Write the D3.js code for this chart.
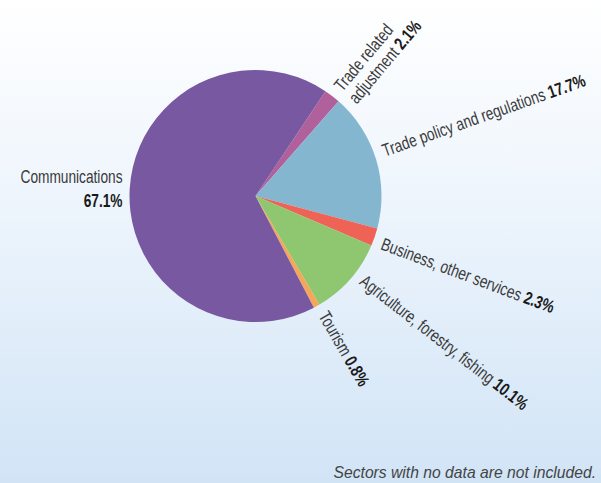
<!DOCTYPE html>
<html>
<head>
<meta charset="utf-8">
<script src="https://cdn.jsdelivr.net/npm/d3@7/dist/d3.min.js"></script>
<style>
html,body{margin:0;padding:0;}
svg{display:block;}
.lab{font-family:"Liberation Sans",Arial,sans-serif;font-size:17.8px;fill:#3a3a3a;}
.pct{font-weight:bold;fill:#1a1a1a;}
.note{font-family:"Liberation Sans","DejaVu Sans",sans-serif;font-style:italic;font-size:15.7px;fill:#444;}
</style>
</head>
<body>
<script>
// Data (clockwise order starting at the pink slice)
const sectors = ["Trade related adjustment", "Trade policy and regulations", "Business, other services", "Agriculture, forestry, fishing", "Tourism", "Communications"];
const labelLines = [["Trade related", "adjustment"], ["Trade policy and regulations"], ["Business, other services"], ["Agriculture, forestry, fishing"], ["Tourism"], ["Communications"]];
const shares = [2.1, 17.7, 2.3, 10.1, 0.8, 67.1];
const pctLabels = ["2.1%", "17.7%", "2.3%", "10.1%", "0.8%", "67.1%"];
const colors = ["#b0609a", "#84b6d0", "#ef6357", "#8ec770", "#f6a65a", "#7858a1"];
const note = "Sectors with no data are not included.";

// layout (not data)
const W = 601, H = 483;
const cx = 255.5, cy = 196, R = 126;
const start = 33.7 * Math.PI / 180;
const tilt = [2.5, -2.5, 1.5, -3.5, -1, 0]; // small label angle adjustments, degrees
const squeeze = 0.77;

const svg = d3.select("body").append("svg").attr("width", W).attr("height", H);
const defs = svg.append("defs");
const grad = defs.append("linearGradient").attr("id", "bg").attr("x1", 0).attr("y1", 0).attr("x2", 0).attr("y2", 1);
grad.append("stop").attr("offset", "0%").attr("stop-color", "#ffffff");
grad.append("stop").attr("offset", "45%").attr("stop-color", "#ecf4fc");
grad.append("stop").attr("offset", "100%").attr("stop-color", "#d1e4f6");
svg.append("rect").attr("width", W).attr("height", H).attr("fill", "url(#bg)");

const pie = d3.pie().sort(null).value(d => d).startAngle(start).endAngle(start + 2 * Math.PI);
const arcs = pie(shares);
const arc = d3.arc().innerRadius(0).outerRadius(R);

const g = svg.append("g").attr("transform", `translate(${cx},${cy})`);
g.selectAll("path").data(arcs).join("path")
  .attr("d", arc)
  .attr("fill", (d, i) => colors[i]);

// labels
arcs.forEach((d, i) => {
  const mid = (d.startAngle + d.endAngle) / 2;
  const lines = labelLines[i];
  if (sectors[i] === "Communications") {
    const lg = g.append("g").attr("transform", `translate(${-(R + 7)},0) scale(${squeeze},1)`);
    const t = lg.append("text").attr("class", "lab").attr("text-anchor", "end");
    t.append("tspan").attr("x", 0).attr("y", -13).text(lines[0]);
    t.append("tspan").attr("x", 0).attr("y", 11).attr("class", "pct").text(pctLabels[i]);
    return;
  }
  const deg = mid * 180 / Math.PI - 90 + tilt[i];
  const lg = g.append("g").attr("transform", `rotate(${deg}) translate(${R + 9},0) scale(${squeeze},1)`);
  const t = lg.append("text").attr("class", "lab");
  if (lines.length === 2) {
    t.append("tspan").attr("x", 0).attr("y", 0).text(lines[0]);
    t.append("tspan").attr("x", 0).attr("y", 19).text(lines[1] + " ");
    t.append("tspan").attr("class", "pct").text(pctLabels[i]);
  } else {
    t.append("tspan").attr("x", 0).attr("y", 6).text(lines[0] + " ");
    t.append("tspan").attr("class", "pct").text(pctLabels[i]);
  }
});

svg.append("text").attr("class", "note").attr("x", 596).attr("y", 478).attr("text-anchor", "end").text(note);
</script>
</body>
</html>
